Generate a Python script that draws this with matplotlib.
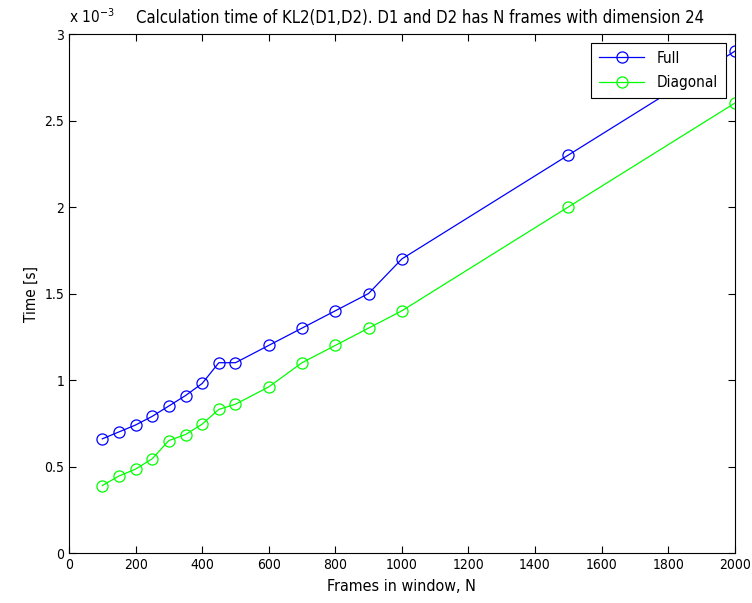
import matplotlib
matplotlib.use('Agg')
import matplotlib.pyplot as plt
from matplotlib.ticker import FuncFormatter

plt.rcParams['font.family'] = ['DejaVu Sans']
plt.rcParams['font.stretch'] = 'condensed'

frames = [100, 150, 200, 250, 300, 350, 400, 450, 500, 600, 700, 800, 900, 1000, 1500, 2000]
timeFull = [0.66e-3, 0.70e-3, 0.74e-3, 0.79e-3, 0.85e-3, 0.91e-3, 0.98e-3, 1.10e-3,
            1.10e-3, 1.20e-3, 1.30e-3, 1.40e-3, 1.50e-3, 1.70e-3, 2.30e-3, 2.90e-3]
timeDiag = [0.39e-3, 0.445e-3, 0.485e-3, 0.545e-3, 0.65e-3, 0.685e-3, 0.745e-3, 0.83e-3,
            0.86e-3, 0.96e-3, 1.10e-3, 1.20e-3, 1.30e-3, 1.40e-3, 2.00e-3, 2.60e-3]

fig = plt.figure(figsize=(7.52, 6.03), dpi=100)
ax = fig.add_axes([0.0918, 0.0829, 0.8852, 0.8607])

ax.plot(frames, timeFull, color=(0, 0, 1), lw=0.9, marker='o', ms=8, mfc='none', mew=0.9, label='Full')
ax.plot(frames, timeDiag, color=(0, 1, 0), lw=0.9, marker='o', ms=8, mfc='none', mew=0.9, label='Diagonal')

ax.set_xlim(0, 2000)
ax.set_ylim(0, 3e-3)
ax.set_xticks(range(0, 2001, 200))
ax.set_yticks([0, 0.5e-3, 1e-3, 1.5e-3, 2e-3, 2.5e-3, 3e-3])
# y values are in seconds, labels shown in units of 1e-3
ax.yaxis.set_major_formatter(FuncFormatter(lambda v, p: f'{v * 1e3:g}'))
ax.tick_params(direction='in', top=True, right=True, length=5, labelsize=10, width=0.8)
for s in ax.spines.values():
    s.set_linewidth(0.8)

ax.set_xlabel('Frames in window, N', fontsize=11.5, labelpad=5)
ax.set_ylabel('Time [s]', fontsize=11)
ax.set_title('Calculation time of KL2(D1,D2). D1 and D2 has N frames with dimension 24',
             fontsize=12, x=0.527, pad=8)
ax.text(0.0, 1.015, r'x 10$^{-3}$', transform=ax.transAxes, fontsize=11, va='bottom', ha='left')

leg = ax.legend(loc='upper right', fontsize=11, fancybox=False, edgecolor='black',
                borderaxespad=0.6, handlelength=3.0, framealpha=1, labelspacing=0.6, borderpad=0.5)
leg.get_frame().set_linewidth(0.8)

fig.savefig('out.png', dpi=100)
